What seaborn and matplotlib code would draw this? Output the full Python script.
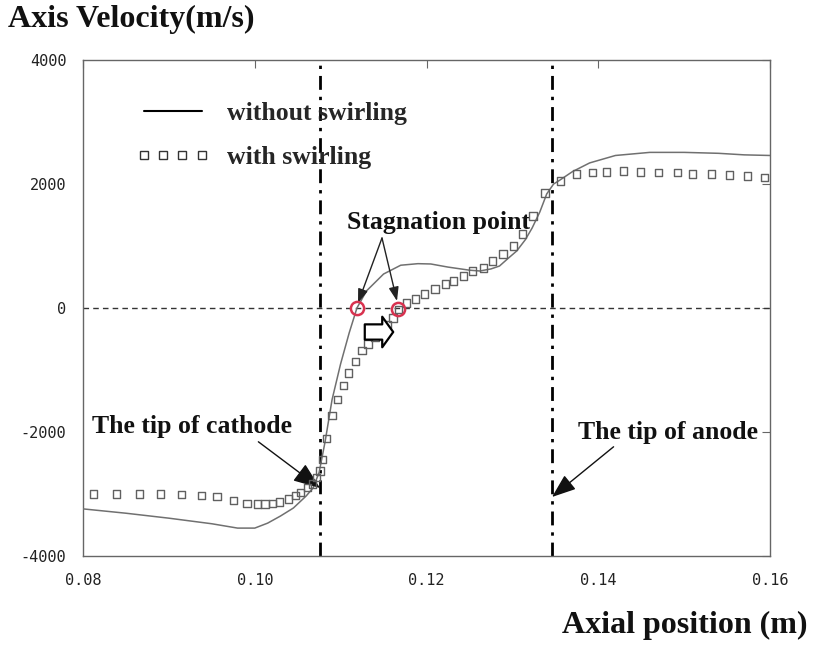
import numpy as np
import pandas as pd
import matplotlib
matplotlib.use("Agg")
import matplotlib.pyplot as plt
import seaborn as sns
from matplotlib.lines import Line2D
from matplotlib.patches import FancyArrowPatch

# ---------------- data ----------------
x_without = [0.080, 0.085, 0.090, 0.095, 0.098, 0.100, 0.1015, 0.1030, 0.1045,
             0.1060, 0.1068, 0.1075, 0.1082, 0.1090, 0.1100, 0.1110, 0.1119,
             0.1130, 0.1150, 0.1170, 0.1190, 0.1205, 0.1225, 0.1250, 0.1262,
             0.1275, 0.1285, 0.1295, 0.1305, 0.1315, 0.1323, 0.1332, 0.1340,
             0.1348, 0.1355, 0.1370, 0.1390, 0.1420, 0.1460, 0.1500, 0.1540,
             0.1570, 0.1600]
v_without = [-3240, -3310, -3390, -3480, -3550, -3550, -3470, -3355, -3226,
             -3030, -2900, -2650, -2150, -1480, -900, -400, 0,
             274, 548, 690, 715, 710, 660, 610, 597,
             630, 677, 800, 919, 1100, 1290, 1550, 1840,
             2000, 2060, 2200, 2340, 2460, 2510, 2510, 2495,
             2470, 2460]

x_with = [0.0812, 0.0839, 0.0866, 0.0890, 0.0915, 0.0938, 0.0956, 0.0975,
          0.0991, 0.1003, 0.1012, 0.1021, 0.1029, 0.1039, 0.1047, 0.1053,
          0.1061, 0.1067, 0.1072, 0.1076, 0.1079, 0.1084, 0.1090, 0.1096,
          0.1103, 0.1109, 0.1117, 0.1125, 0.1132, 0.1140, 0.1148, 0.1155,
          0.1161, 0.1167, 0.1177, 0.1187, 0.1198, 0.1210, 0.1222, 0.1231,
          0.1243, 0.1254, 0.1266, 0.1277, 0.1289, 0.1301, 0.1312, 0.1324,
          0.1338, 0.1356, 0.1375, 0.1393, 0.1410, 0.1429, 0.1449, 0.1470,
          0.1492, 0.1510, 0.1532, 0.1553, 0.1574, 0.1594]
v_with = [-3000, -3000, -3000, -3000, -3010, -3020, -3040, -3100,
          -3150, -3160, -3160, -3150, -3130, -3080, -3030, -2980,
          -2900, -2840, -2740, -2630, -2440, -2100, -1740, -1470,
          -1250, -1050, -860, -690, -580, -480, -400, -260,
          -160, -20, 80, 145, 226, 306, 387, 435,
          516, 597, 645, 758, 871, 1000, 1194, 1484,
          1855, 2050, 2160, 2180, 2195, 2210, 2195, 2180,
          2180, 2160, 2160, 2145, 2130, 2100]

stag_x = [0.1119, 0.1167]
stag_v = [0, -20]
cathode_x = 0.1076
anode_x = 0.1346

x_ticks = [0.08, 0.10, 0.12, 0.14, 0.16]
x_tick_labels = ["0.08", "0.10", "0.12", "0.14", "0.16"]
y_ticks = [-4000, -2000, 0, 2000, 4000]
y_tick_labels = ["-4000", "-2000", "0", "2000", "4000"]

df_without = pd.DataFrame({"x": x_without, "v": v_without})
df_with = pd.DataFrame({"x": x_with, "v": v_with})

# ---------------- figure ----------------
sns.set_theme(style="white")
plt.rcParams["font.family"] = ["DejaVu Sans"]

W, H = 816, 647
fig = plt.figure(figsize=(W / 100, H / 100), dpi=100)
fig.patch.set_facecolor("white")
ax = fig.add_axes([83 / W, 1 - 556 / H, (770 - 83) / W, (556 - 60) / H])
ax.set_facecolor("white")

# reference lines
ax.axhline(0, color="#333333", lw=1.0, ls=(0, (4, 3)), zorder=1)
ax.axvline(cathode_x, color="black", lw=2.0, ls=(0, (5, 2.5, 1.2, 2.5)), zorder=1)
ax.axvline(anode_x, color="black", lw=2.0, ls=(0, (5, 2.5, 1.2, 2.5)), zorder=1)

sns.lineplot(data=df_without, x="x", y="v", ax=ax, color="#707070", lw=1.1,
             sort=False, zorder=3, legend=False)
sns.scatterplot(data=df_with, x="x", y="v", ax=ax, marker="s", s=27,
                facecolor="none", edgecolor="#606060", linewidth=1.0,
                zorder=4, legend=False)

# stagnation circles
ax.plot(stag_x, stag_v, ls="none", marker="o", ms=9.5, mfc="none",
        mec="#d8324f", mew=1.8, zorder=5)

ax.set_xlim(0.08, 0.16)
ax.set_ylim(-4000, 4000)
ax.set_xticks(x_ticks)
ax.set_xticklabels(x_tick_labels)
ax.set_yticks(y_ticks)
ax.set_yticklabels(y_tick_labels)
ax.set_xlabel("")
ax.set_ylabel("")
ax.tick_params(direction="in", length=6, width=0.8, color="#666666",
               top=True, right=True, labelsize=11, labelcolor="#222222",
               pad=12)
for lab in ax.get_xticklabels() + ax.get_yticklabels():
    lab.set_family("DejaVu Sans Mono")
for sp in ax.spines.values():
    sp.set_color("#666666")
    sp.set_linewidth(1.0)

serif = ["Liberation Serif", "DejaVu Serif"]
ann_fs = 18.5

# axis titles
fig.text(8 / W, 1 - 19 / H, "Axis Velocity(m/s)", family=serif, weight="bold",
         fontsize=23, ha="left", va="center", color="#111111")
fig.text(808 / W, 1 - 625 / H, "Axial position (m)", family=serif, weight="bold",
         fontsize=23, ha="right", va="center", color="#111111")

# legend
handles = [Line2D([], [], color="black", lw=1.5),
           Line2D([], [], ls="none", marker="s", ms=5.5, mfc="none",
                  mec="#333333", mew=1.0)]
leg = ax.legend(handles, ["without swirling", "with swirling"], loc="upper left",
                bbox_to_anchor=(136 / W, 1 - 102 / H), bbox_transform=fig.transFigure,
                frameon=False, numpoints=4, handlelength=2.85, handletextpad=0.7,
                labelspacing=0.8, borderpad=0, borderaxespad=0,
                prop={"family": serif, "weight": "bold", "size": ann_fs})

# annotations
def to_data(px, py):
    return ax.transData.inverted().transform(
        fig.transFigure.transform((px / W, 1 - py / H)))

ax.annotate("The tip of cathode", xy=to_data(320, 488), xytext=to_data(92, 427),
            textcoords="data", ha="left", va="center", family=serif,
            weight="bold", fontsize=ann_fs, color="#111111",
            arrowprops=dict(arrowstyle="-|>,head_length=0.9,head_width=0.35",
                            color="#111111", lw=1.0, shrinkA=0, shrinkB=0,
                            relpos=(0.81, 0.0)))
ax.annotate("The tip of anode", xy=to_data(552, 497), xytext=to_data(578, 432),
            textcoords="data", ha="left", va="center", family=serif,
            weight="bold", fontsize=ann_fs, color="#111111",
            arrowprops=dict(arrowstyle="-|>,head_length=0.8,head_width=0.3",
                            color="#111111", lw=1.0, shrinkA=0, shrinkB=0,
                            relpos=(0.22, 0.0)))
ax.text(*to_data(347, 222), "Stagnation point", ha="left", va="center",
        family=serif, weight="bold", fontsize=ann_fs, color="#111111")
for tgt in [(358, 303), (397, 301)]:
    ax.annotate("", xy=to_data(*tgt), xytext=to_data(382, 238),
                arrowprops=dict(arrowstyle="-|>,head_length=0.7,head_width=0.25",
                                color="#222222", lw=1.0, shrinkA=0, shrinkB=0))

# hollow block arrow
blk = FancyArrowPatch(to_data(362, 332), to_data(396, 332),
                      arrowstyle="simple,head_length=0.36,head_width=1.0,tail_width=0.5",
                      mutation_scale=22, facecolor="white", edgecolor="black",
                      lw=1.6, zorder=6)
ax.add_patch(blk)

fig.savefig("out.png", dpi=100, facecolor="white")
